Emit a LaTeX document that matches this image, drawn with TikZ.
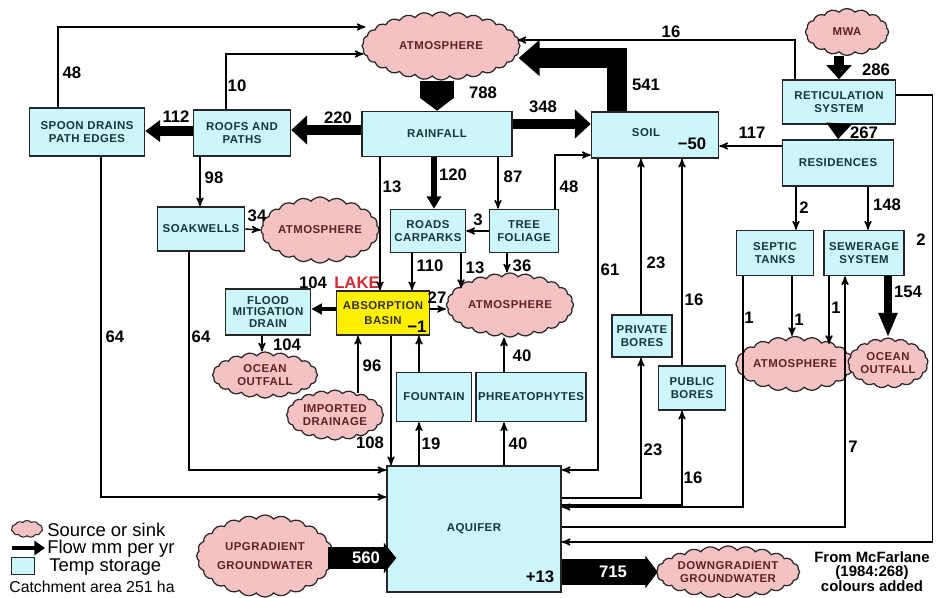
\documentclass[tikz,border=0pt]{standalone}
\usepackage{fontspec}
\setmainfont{Liberation Sans}
\newfontfamily\capsfamily[LetterSpace=4]{Liberation Sans}
\usepackage{xcolor}
\usetikzlibrary{shapes.symbols,arrows,arrows.meta}
\definecolor{storecyan}{RGB}{204,246,250}
\definecolor{sinkpink}{RGB}{245,194,196}
\definecolor{lakeyellow}{RGB}{255,240,0}
\definecolor{lakered}{RGB}{214,40,48}
\definecolor{storeink}{RGB}{20,54,64}
\definecolor{sinkink}{RGB}{96,32,38}
\newcommand\tagfont{\capsfamily\fontsize{6.5}{7.8}\selectfont\bfseries}
\newcommand\valfont{\fontsize{9.5}{10}\selectfont\bfseries}

\begin{document}
\begin{tikzpicture}[x=0.02cm,y=-0.02cm,>=stealth',
    store/.style={draw=black!85,fill=storecyan,line width=0.9pt,font=\tagfont,text=storeink,align=center,inner sep=1pt},
    sink/.style={cloud,cloud puffs=#1,cloud puff arc=100,cloud ignores aspect,draw=black!85,fill=sinkpink,line width=0.7pt,font=\tagfont,text=sinkink,align=center,inner sep=0pt},
    sink/.default=18,
    flow/.style={->,line width=0.8pt},
    fat/.style n args={3}{line width=#1,-{Triangle[length=#2,width=#3]}},
    val/.style={font=\valfont,inner sep=1pt}]
	\useasboundingbox (0,0) rectangle (936,598);

	% sources and sinks
	\node[sink=28,minimum width=3.16cm,minimum height=1.36cm] (atm1) at (441,46) {ATMOSPHERE};
	\node[sink=16,minimum width=1.66cm,minimum height=0.94cm] (mwa) at (847,32) {MWA};
	\node[sink=20,minimum width=2.1cm,minimum height=1.32cm] (atm2) at (320,230) {ATMOSPHERE};
	\node[sink=24,minimum width=2.54cm,minimum height=1.28cm] (atm3) at (510,305) {ATMOSPHERE};
	\node[sink=20,minimum width=2.1cm,minimum height=0.92cm] (ocean1) at (265,375) {OCEAN\\OUTFALL};
	\node[sink=20,minimum width=1.94cm,minimum height=1.0cm] (imported) at (335,415) {IMPORTED\\DRAINAGE};
	\node[sink=20,minimum width=1.92cm,minimum height=1.1cm] (atm4) at (795,364) {ATMOSPHERE};
	\node[sink=17,minimum width=1.6cm,minimum height=1.0cm] (ocean2) at (888,363) {OCEAN\\OUTFALL};
	\node[sink=24,minimum width=2.64cm,minimum height=1.64cm] (upgrad) at (265,556) {UPGRADIENT\\[3pt]GROUNDWATER};
	\node[sink=24,minimum width=2.8cm,minimum height=1.04cm] (downgrad) at (728,572) {DOWNGRADIENT\\GROUNDWATER};

	% temporary storages
	\node[store,minimum width=2.3cm,minimum height=0.96cm] (spoon) at (87,132) {SPOON DRAINS\\PATH EDGES};
	\node[store,minimum width=1.94cm,minimum height=0.92cm] (roofs) at (242,133) {ROOFS AND\\PATHS};
	\node[store,minimum width=3.0cm,minimum height=0.9cm] (rain) at (437,134) {RAINFALL};
	\node[store,minimum width=2.54cm,minimum height=0.92cm] (soil) at (655,135) {};
	\node[font=\tagfont,text=storeink] (soiltxt) at (646,133) {SOIL};
	\node[val] (soilchg) at (692,144) {−50};
	\node[store,minimum width=2.26cm,minimum height=0.88cm] (retic) at (839,102) {RETICULATION\\SYSTEM};
	\node[store,minimum width=2.22cm,minimum height=0.92cm] (res) at (838,163) {RESIDENCES};
	\node[store,minimum width=1.74cm,minimum height=0.88cm] (soak) at (201,229) {SOAKWELLS};
	\node[store,minimum width=1.5cm,minimum height=0.86cm] (roads) at (428,231) {ROADS\\CARPARKS};
	\node[store,minimum width=1.38cm,minimum height=0.86cm] (tree) at (524,231) {TREE\\FOLIAGE};
	\node[store,minimum width=1.7cm,minimum height=0.92cm,font=\capsfamily\fontsize{6.5}{6.6}\selectfont\bfseries] (flood) at (268,312) {FLOOD\\MITIGATION\\DRAIN};
	\node[store,fill=lakeyellow,minimum width=1.86cm,minimum height=0.88cm,text=black!80] (basin) at (383,313) {ABSORPTION\\[1pt]BASIN};
	\node[val] (basinchg) at (417,327) {−1};
	\node[font=\valfont,text=lakered] (lake) at (357,283) {LAKE};
	\node[store,minimum width=1.5cm,minimum height=0.98cm] (fount) at (434,397) {FOUNTAIN};
	\node[store,minimum width=2.18cm,minimum height=0.98cm] (phreat) at (531,397) {PHREATOPHYTES};
	\node[store,minimum width=1.2cm,minimum height=0.84cm] (pvt) at (642,336) {PRIVATE\\BORES};
	\node[store,minimum width=1.34cm,minimum height=0.88cm] (pub) at (692,388) {PUBLIC\\BORES};
	\node[store,minimum width=1.54cm,minimum height=0.9cm] (septic) at (775,253) {SEPTIC\\TANKS};
	\node[store,minimum width=1.6cm,minimum height=0.9cm] (sewer) at (864,253) {SEWERAGE\\SYSTEM};
	\node[store,minimum width=3.48cm,minimum height=2.52cm] (aquifer) at (474,529) {AQUIFER};
	\node[val] (aqchg) at (540,577) {+13};

	% flows
	\draw[flow] ([shift={(-29,0)}]spoon.north) |- ([shift={(4,-19)}]atm1.west) node[val] at (72,73) {48};
	\draw[flow] ([shift={(-16,0)}]roofs.north) |- ([shift={(2,8)}]atm1.west) node[val] at (237,86) {10};
	\draw[fat={5.5pt}{8.5pt}{12pt}] ([shift={(0,-2)}]roofs.west) -- ([shift={(0,-1)}]spoon.east) node[val] at (176,117) {112};
	\draw[fat={6pt}{9pt}{16pt}] ([shift={(0,-4)}]rain.west) -- ([shift={(0,-3)}]roofs.east) node[val] at (338,118) {220};
	\draw[fat={19pt}{7.5pt}{19.5pt}] (atm1.south -| rain.north) -- (rain.north) node[val] at (483,93) {788};
	\draw[fat={6pt}{9pt}{16pt}] ([shift={(0,-10)}]rain.east) -- ([shift={(0,-11)}]soil.west) node[val] at (543,107) {348};
	\draw[fat={11pt}{12pt}{20pt}] ([shift={(-38,0)}]soil.north) |- ([shift={(-2,12)}]atm1.east) node[val] at (646,85) {541};
	\draw[flow] ([shift={(-44,0)}]retic.north) |- ([shift={(-3,-6)}]atm1.east) node[val] at (671,32) {16};
	\draw[fat={6pt}{8pt}{14pt}] (mwa.south -| retic.north) -- (retic.north) node[val] at (876,70) {286};
	\draw[fat={4pt}{9pt}{14pt}] (retic.south) -- (res.north) node[val] at (864,133) {267};
	\draw[flow] ([shift={(0,-17)}]res.west) -- ([shift={(0,11)}]soil.east) node[val] at (752,133) {117};
	\draw[flow] ([shift={(-42,0)}]res.south) -- ([shift={(21,0)}]septic.north) node[val] at (804,208) {2};
	\draw[flow] ([shift={(30,0)}]res.south) -- ([shift={(4,0)}]sewer.north) node[val] at (887,205) {148};
	\draw[fat={4.5pt}{14pt}{10pt}] ([shift={(24,0)}]sewer.south) -- (ocean2.north) node[val] at (908,292) {154};
	\draw[flow] ([shift={(17,0)}]septic.south) -- ([shift={(-3,0)}]atm4.north) node[val] at (799,320) {1};
	\draw[flow] ([shift={(-35,0)}]sewer.south) -- ([shift={(34,-20)}]atm4.center) node[val] at (836,308) {1};
	\draw[flow] ([shift={(-32,0)}]septic.south) |- ([shift={(0,-22)}]aquifer.east) node[val] at (749,318) {1};
	\draw[flow] ([shift={(0,-2)}]aquifer.east) -| ([shift={(-19,0)}]sewer.south) node[val] at (853,447) {7};
	\draw[flow] ([shift={(0,-7)}]retic.east) -- ++(36,0) |- ([shift={(0,13)}]aquifer.east) node[val,anchor=east] at (928,240) {2};
	\draw[flow] ([shift={(-57,0)}]soil.south) |- ([shift={(0,-59)}]aquifer.east) node[val] at (610,270) {61};
	\draw[flow] ([shift={(0,-31)}]aquifer.east) -| ([shift={(-1,0)}]pvt.south) node[val] at (653,450) {23};
	\draw[flow] ([shift={(-1,0)}]pvt.north) -- ([shift={(-14,0)}]soil.south) node[val] at (656,263) {23};
	\draw[flow] ([shift={(0,-24)}]aquifer.east) -| ([shift={(-10,0)}]pub.south) node[val] at (693,478) {16};
	\draw[flow] ([shift={(-10,0)}]pub.north) -- ([shift={(27,0)}]soil.south) node[val] at (694,300) {16};
	\draw[flow] ([shift={(14,0)}]spoon.south) |- ([shift={(0,-32)}]aquifer.west) node[val] at (115,337) {64};
	\draw[flow] ([shift={(-12,0)}]soak.south) |- ([shift={(0,-59)}]aquifer.west) node[val] at (201,337) {64};
	\draw[flow] ([shift={(-42,0)}]roofs.south) -- ([shift={(-1,0)}]soak.north) node[val] at (214,178) {98};
	\draw[flow] (soak.east) -- (atm2.west) node[val] at (257,216) {34};
	\draw[flow] ([shift={(-57,0)}]rain.south) -- ([shift={(-3,0)}]basin.north) node[val] at (392,187) {13};
	\draw[fat={3.5pt}{7pt}{8pt}] ([shift={(-3,0)}]rain.south) -- ([shift={(6,0)}]roads.north) node[val] at (453,175) {120};
	\draw[flow] ([shift={(61,0)}]rain.south) -- ([shift={(-26,0)}]tree.north) node[val] at (513,177) {87};
	\draw[flow] ([shift={(31,0)}]tree.north) |- ([shift={(0,20)}]soil.west) node[val] at (569,187) {48};
	\draw[flow] (tree.west) -- (roads.east) node[val] at (478,220) {3};
	\draw[flow] ([shift={(-16,0)}]roads.south) -- ([shift={(29,0)}]basin.north) node[val] at (430,266) {110};
	\draw[flow] ([shift={(33,0)}]roads.south) -- ([shift={(-49,-17)}]atm3.center) node[val] at (475,268) {13};
	\draw[flow] ([shift={(-17,0)}]tree.south) -- ([shift={(-3,0)}]atm3.north) node[val] at (522,266) {36};
	\draw[flow] ([shift={(0,-4)}]basin.east) -- ([shift={(0,4)}]atm3.west) node[val] at (437,298) {27};
	\draw[fat={2.5pt}{6pt}{6pt}] ([shift={(0,-4)}]basin.west) -- ([shift={(0,-3)}]flood.east) node[val] at (313,283) {104};
	\draw[flow] ([shift={(-6,0)}]flood.south) -- ([shift={(-3,0)}]ocean1.north) node[val] at (287,345) {104};
	\draw[flow] ([shift={(23,-22)}]imported.center) -- ([shift={(-25,0)}]basin.south) node[val] at (372,366) {96};
	\draw[flow] ([shift={(8,0)}]basin.south) -- ([shift={(-83,0)}]aquifer.north) node[val] at (370,443) {108};
	\draw[flow] ([shift={(-55,0)}]aquifer.north) -- ([shift={(-15,0)}]fount.south) node[val] at (431,444) {19};
	\draw[flow] ([shift={(-15,0)}]fount.north) -- ([shift={(36,0)}]basin.south);
	\draw[flow] ([shift={(30,0)}]aquifer.north) -- ([shift={(-27,0)}]phreat.south) node[val] at (518,444) {40};
	\draw[flow] ([shift={(-27,0)}]phreat.north) -- ([shift={(-6,0)}]atm3.south) node[val] at (522,356) {40};
	\draw[fat={12.5pt}{7pt}{17pt}] ([shift={(-6,2)}]upgrad.east) -- ([shift={(10,29)}]aquifer.west) node[val,text=white] at (366,558) {560};
	\draw[fat={14.5pt}{7pt}{18pt}] ([shift={(0,43)}]aquifer.east) -- ([shift={(2,0)}]downgrad.west) node[val,text=white] at (613,572) {715};

	% legend
	\node[sink=11,minimum width=0.62cm,minimum height=0.34cm,line width=0.6pt] (legsink) at (27,529) {};
	\node[anchor=west,font=\fontsize{10.5}{11}\selectfont,inner sep=0pt] (legsinktxt) at (47,530) {Source or sink};
	\coordinate (legfrom) at (12,548);
	\coordinate (legto) at (45,548);
	\draw[fat={2.5pt}{6pt}{8pt}] (legfrom) -- (legto);
	\node[anchor=west,font=\fontsize{10.5}{11}\selectfont,inner sep=0pt] (legflowtxt) at (47,549) {Flow mm per yr};
	\node[store,minimum width=0.46cm,minimum height=0.34cm] (legstore) at (23,566) {};
	\node[anchor=west,font=\fontsize{10.5}{11}\selectfont,inner sep=0pt] (legstoretxt) at (49,567) {Temp storage};
	\node[anchor=west,font=\fontsize{9}{10}\selectfont,inner sep=0pt] (legarea) at (9,587) {Catchment area 251 ha};
	\node[align=center,font=\fontsize{8.5}{7.6}\selectfont\bfseries] (credit) at (872,572) {From McFarlane\\(1984:268)\\colours added};
\end{tikzpicture}
\end{document}
